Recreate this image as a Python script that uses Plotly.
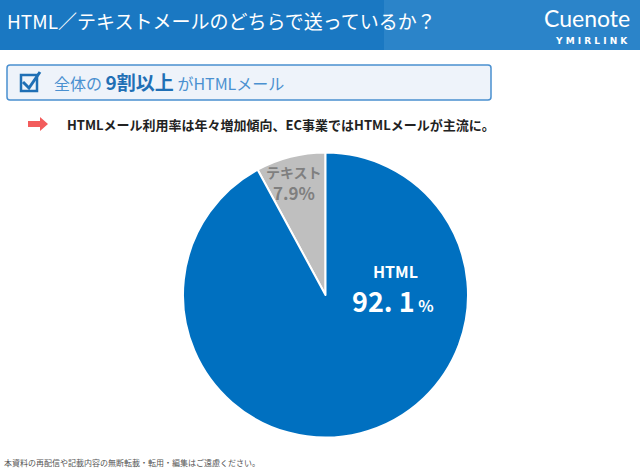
import plotly.graph_objects as go

labels = ["テキスト", "HTML"]
values = [7.9, 92.1]
colors = ["#BFBFBF", "#0070C0"]

F = "Noto Sans CJK JP"
P = lambda px: px/640
Q = lambda py: 1-py/473

fig = go.Figure(go.Pie(
    labels=labels, values=values, sort=False, direction="clockwise", rotation=-28.44,
    marker=dict(colors=colors, line=dict(color="white", width=2)),
    textinfo="none",
    domain=dict(x=[P(183), P(468)], y=[Q(438), Q(152)]),
    showlegend=False, hoverinfo="label+value",
))

shapes = [
    dict(type="rect", xref="paper", yref="paper", x0=0, x1=1, y0=Q(50), y1=1,
         fillcolor="#1A78C2", line_width=0, layer="below"),
    dict(type="rect", xref="paper", yref="paper", x0=0.6, x1=1, y0=Q(50), y1=1,
         fillcolor="#3B8FD0", opacity=0.5, line_width=0, layer="below"),
    dict(type="path", xref="paper", yref="paper",
         path=f"M {P(10)},{Q(65)} L {P(488)},{Q(65)} Q {P(491)},{Q(65)} {P(491)},{Q(68)} "
              f"L {P(491)},{Q(97)} Q {P(491)},{Q(100)} {P(488)},{Q(100)} L {P(10)},{Q(100)} "
              f"Q {P(7)},{Q(100)} {P(7)},{Q(97)} L {P(7)},{Q(68)} Q {P(7)},{Q(65)} {P(10)},{Q(65)} Z",
         fillcolor="#EEF3FA", line=dict(color="#4A90D0", width=1.5)),
    dict(type="rect", xref="paper", yref="paper", x0=P(21), x1=P(37), y0=Q(91), y1=Q(75),
         line=dict(color="#1F6FB5", width=2.5)),
    dict(type="path", xref="paper", yref="paper",
         path=f"M {P(23)},{Q(82)} L {P(29)},{Q(88)} L {P(40)},{Q(72)}",
         line=dict(color="#1F6FB5", width=3)),
    dict(type="path", xref="paper", yref="paper",
         path=f"M {P(28)},{Q(121)} L {P(40)},{Q(121)} L {P(40)},{Q(117)} L {P(48)},{Q(124)} "
              f"L {P(40)},{Q(131)} L {P(40)},{Q(127)} L {P(28)},{Q(127)} Z",
         fillcolor="#F25C5C", line_width=0),
]

def A(x, y, text, size, color, anchor="left", family=F):
    return dict(xref="paper", yref="paper", x=P(x), y=Q(y), text=text, showarrow=False,
                xanchor=anchor, yanchor="middle", font=dict(family=family, size=size, color=color))

ann = [
    A(5, 20, "HTML／テキストメールのどちらで送っているか？", 19, "white"),
    A(632, 18, "Cuenote", 23, "white", "right", "Lato"),
    A(630, 41, "<b>Y M I R L I N K</b>", 9, "white", "right", "DejaVu Sans"),
    A(52, 82, "<span style='color:#4A90D0'>全体の </span><b style='font-size:19px;color:#1F6FB5'>9割以上</b><span style='color:#4A90D0'> がHTMLメール</span>", 16, "#4A90D0"),
    A(65, 124, "<b>HTMLメール利用率は年々増加傾向、EC事業ではHTMLメールが主流に。</b>", 13, "#222"),
    A(2, 462, "本資料の再配信や記載内容の無断転載・転用・編集はご遠慮ください。", 8, "#555"),
    A(294, 172, f"<b>{labels[0]}</b>", 14, "#7F7F7F", "center"),
    A(294, 193, f"<b>{values[0]}%</b>", 17, "#7F7F7F", "center"),
    A(395, 271, f"<b>{labels[1]}</b>", 16, "white", "center"),
    A(393, 300, f"<b style='font-size:27px'>{values[1]:.1f}</b> <b>%</b>".replace(".", ". ", 1), 16, "white", "center"),
]

fig.update_layout(width=640, height=473, margin=dict(l=0, r=0, t=0, b=0),
                  paper_bgcolor="white", shapes=shapes, annotations=ann)
fig.write_html("out.html", config={"displayModeBar": False},
               post_script="document.body.style.margin='0';document.body.style.overflow='hidden';")
